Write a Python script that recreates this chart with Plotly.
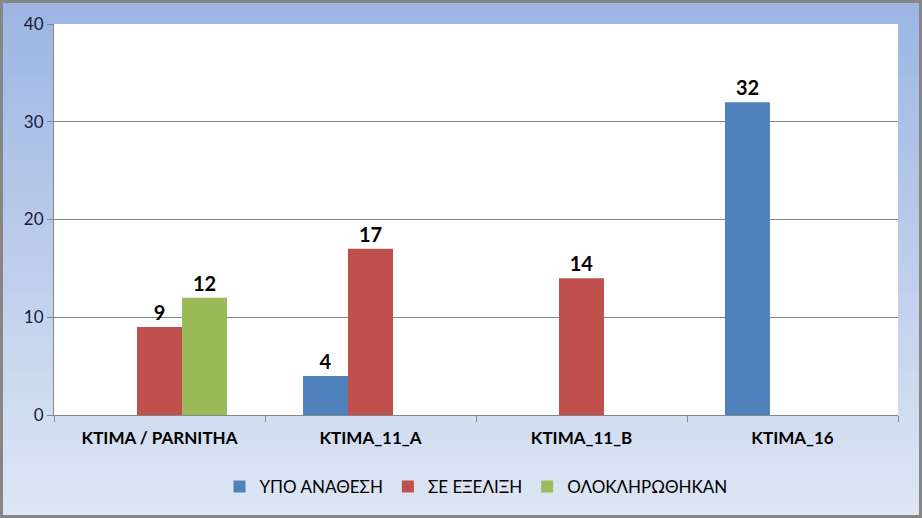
import plotly.graph_objects as go

categories = ["KTIMA / PARNITHA", "KTIMA_11_A", "KTIMA_11_B", "KTIMA_16"]
series_names = ["ΥΠΟ ΑΝΑΘΕΣΗ", "ΣΕ ΕΞΕΛΙΞΗ", "ΟΛΟΚΛΗΡΩΘΗΚΑΝ"]
ypo_anathesi = [None, 4, None, 32]
se_exelixi = [9, 17, 14, None]
oloklirothikan = [12, None, None, None]
y_ticks = [0, 10, 20, 30, 40]

colors = ["#4f81bd", "#c0504d", "#9bbb59"]
W, H = 922, 518
ML, MR, MT, MB = 54, 24, 24, 103
pw, ph = W - ML - MR, H - MT - MB

fig = go.Figure()
for name, vals, col in zip(series_names, [ypo_anathesi, se_exelixi, oloklirothikan], colors):
    fig.add_trace(go.Bar(
        x=categories, y=vals, name=name, marker_color=col, marker_line_width=0,
        text=[("<b>%d</b>" % v) if v is not None else "" for v in vals],
        textposition="outside", textfont=dict(size=20, color="black", family="Lato"),
        cliponaxis=False,
    ))

# gradient background stripes
def lerp(a, b, t):
    return tuple(round(a[i] + (b[i] - a[i]) * t) for i in range(3))
top = (0x9b, 0xb5, 0xe3)
bot = (0xde, 0xe6, 0xf3)
x0p, x1p = -ML / pw, (W - ML) / pw
shapes = []
N = 60
for i in range(N):
    ya = 1 + MT / ph - (i / N) * (H / ph)
    yb = 1 + MT / ph - ((i + 1) / N) * (H / ph)
    c = lerp(top, bot, (i + 0.5) / N)
    shapes.append(dict(type="rect", xref="paper", yref="paper", x0=x0p, x1=x1p,
                       y0=yb, y1=ya + 0.002, fillcolor="rgb(%d,%d,%d)" % c,
                       line=dict(width=0), layer="below"))
shapes.append(dict(type="rect", xref="paper", yref="paper", x0=0, x1=1, y0=0, y1=1,
                   fillcolor="white", line=dict(width=0), layer="below"))
# outer border
bx = 1.5 / pw
by = 1.5 / ph
shapes.append(dict(type="rect", xref="paper", yref="paper",
                   x0=x0p + bx, x1=x1p - bx, y0=-MB / ph + by, y1=1 + MT / ph - by,
                   line=dict(color="#868686", width=3), fillcolor="rgba(0,0,0,0)", layer="above"))

fig.update_layout(
    width=W, height=H,
    margin=dict(l=ML, r=MR, t=MT, b=MB),
    paper_bgcolor="rgba(0,0,0,0)", plot_bgcolor="rgba(0,0,0,0)",
    barmode="group", bargap=0.36, bargroupgap=0,
    font=dict(family="Lato", color="black"),
    shapes=shapes,
    showlegend=True,
    legend=dict(orientation="h", x=0.5, xanchor="center", y=-0.184, yanchor="middle",
                font=dict(size=17, color="black"), itemwidth=30, traceorder="normal",
                bgcolor="rgba(0,0,0,0)"),
    xaxis=dict(tickfont=dict(size=17, color="black", family="Lato"),
               tickvals=categories, ticktext=["<b>%s</b>" % c for c in categories],
               ticks="outside", tickson="boundaries", ticklen=6, tickcolor="#868686",
               ticklabelstandoff=8,
               showline=True, linecolor="#868686", linewidth=1, showgrid=False),
    yaxis=dict(range=[0, 40], tickvals=y_ticks, ticks="outside", ticklen=6, tickcolor="#868686",
               tickfont=dict(size=17, color="#1a1a3a", family="Lato"),
               showline=True, linecolor="#868686", linewidth=1,
               showgrid=True, gridcolor="#868686", gridwidth=1, zeroline=False),
)
fig.write_html("out.html")
